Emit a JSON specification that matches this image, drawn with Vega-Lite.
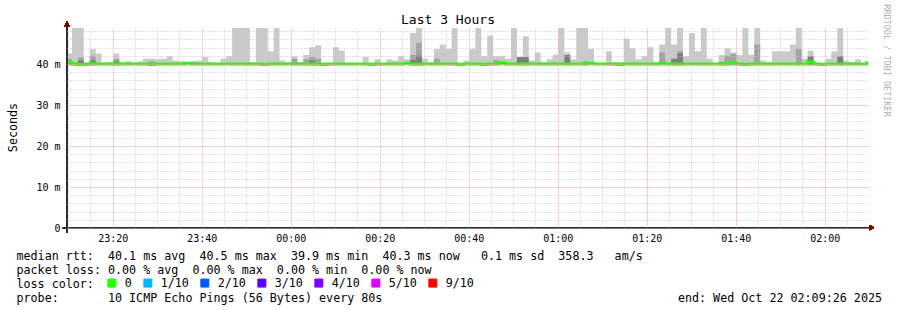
{
"$schema": "https://vega.github.io/schema/vega-lite/v6.json",
"width": 801, "height": 200,
"autosize": {"type": "none"},
"padding": {"left": 67, "top": 28, "right": 29, "bottom": 82},
"background": "#ffffff",
"config": {"view": {"stroke": null}, "font": "DejaVu Sans Mono"},
"title": {"text": "Last 3 Hours", "font": "DejaVu Sans Mono", "fontSize": 13, "fontWeight": "normal", "color": "#000000", "anchor": "middle", "frame": "group", "dx": -19.5, "offset": 0, "dy": 33, "baseline": "alphabetic"},
"data": {"values": [
{"t":"2025-10-21T23:09:30Z","lo":39.7,"hi":42.6,"m":41.3,"d":39.7,"med":40.3,"loss":"0"},
{"t":"2025-10-21T23:10:50Z","lo":39.7,"hi":52,"m":40.4,"d":39.7,"med":40.0,"loss":"0"},
{"t":"2025-10-21T23:12:10Z","lo":39.6,"hi":52,"m":41.6,"d":40.9,"med":39.9,"loss":"0"},
{"t":"2025-10-21T23:13:30Z","lo":39.6,"hi":40.5,"m":39.6,"d":39.6,"med":39.9,"loss":"0"},
{"t":"2025-10-21T23:14:50Z","lo":39.7,"hi":43.7,"m":42.0,"d":40.9,"med":40.1,"loss":"0"},
{"t":"2025-10-21T23:16:10Z","lo":39.7,"hi":42.6,"m":39.7,"d":39.7,"med":40.0,"loss":"0"},
{"t":"2025-10-21T23:17:30Z","lo":39.7,"hi":40.3,"m":39.7,"d":39.7,"med":40.0,"loss":"0"},
{"t":"2025-10-21T23:18:50Z","lo":39.7,"hi":40.5,"m":39.7,"d":39.7,"med":40.0,"loss":"0"},
{"t":"2025-10-21T23:20:10Z","lo":39.7,"hi":42.6,"m":41.3,"d":40.7,"med":40.1,"loss":"0"},
{"t":"2025-10-21T23:21:30Z","lo":39.7,"hi":40.5,"m":39.7,"d":39.7,"med":40.0,"loss":"0"},
{"t":"2025-10-21T23:22:50Z","lo":39.7,"hi":40.7,"m":39.7,"d":39.7,"med":40.0,"loss":"0"},
{"t":"2025-10-21T23:24:10Z","lo":39.7,"hi":40.4,"m":39.7,"d":39.7,"med":40.0,"loss":"0"},
{"t":"2025-10-21T23:25:30Z","lo":39.7,"hi":40.7,"m":39.7,"d":39.7,"med":40.0,"loss":"0"},
{"t":"2025-10-21T23:26:50Z","lo":39.7,"hi":41.3,"m":39.7,"d":39.7,"med":40.0,"loss":"0"},
{"t":"2025-10-21T23:28:10Z","lo":39.6,"hi":41.3,"m":40.7,"d":39.6,"med":39.9,"loss":"0"},
{"t":"2025-10-21T23:29:30Z","lo":39.7,"hi":41.2,"m":39.7,"d":39.7,"med":40.0,"loss":"0"},
{"t":"2025-10-21T23:30:50Z","lo":39.7,"hi":41.3,"m":39.7,"d":39.7,"med":40.0,"loss":"0"},
{"t":"2025-10-21T23:32:10Z","lo":39.7,"hi":41.9,"m":39.7,"d":39.7,"med":40.0,"loss":"0"},
{"t":"2025-10-21T23:33:30Z","lo":39.7,"hi":40.9,"m":39.7,"d":39.7,"med":40.0,"loss":"0"},
{"t":"2025-10-21T23:34:50Z","lo":39.7,"hi":40.7,"m":39.7,"d":39.7,"med":40.0,"loss":"0"},
{"t":"2025-10-21T23:36:10Z","lo":39.7,"hi":40.5,"m":39.7,"d":39.7,"med":40.2,"loss":"0"},
{"t":"2025-10-21T23:37:30Z","lo":39.7,"hi":40.7,"m":40.5,"d":39.7,"med":40.0,"loss":"0"},
{"t":"2025-10-21T23:38:50Z","lo":39.7,"hi":40.9,"m":39.7,"d":39.7,"med":40.0,"loss":"0"},
{"t":"2025-10-21T23:40:10Z","lo":39.7,"hi":41.7,"m":39.7,"d":39.7,"med":40.0,"loss":"0"},
{"t":"2025-10-21T23:41:30Z","lo":39.7,"hi":40.5,"m":39.7,"d":39.7,"med":40.0,"loss":"0"},
{"t":"2025-10-21T23:42:50Z","lo":39.7,"hi":40.3,"m":39.7,"d":39.7,"med":40.0,"loss":"0"},
{"t":"2025-10-21T23:44:10Z","lo":39.7,"hi":41.3,"m":39.7,"d":39.7,"med":40.0,"loss":"0"},
{"t":"2025-10-21T23:45:30Z","lo":39.7,"hi":41.9,"m":39.7,"d":39.7,"med":40.0,"loss":"0"},
{"t":"2025-10-21T23:46:50Z","lo":39.7,"hi":52,"m":39.7,"d":39.7,"med":40.0,"loss":"0"},
{"t":"2025-10-21T23:48:10Z","lo":39.7,"hi":52,"m":39.7,"d":39.7,"med":40.0,"loss":"0"},
{"t":"2025-10-21T23:49:30Z","lo":39.7,"hi":52,"m":40.3,"d":39.7,"med":40.0,"loss":"0"},
{"t":"2025-10-21T23:50:50Z","lo":39.7,"hi":40.5,"m":39.7,"d":39.7,"med":40.0,"loss":"0"},
{"t":"2025-10-21T23:52:10Z","lo":39.7,"hi":52,"m":39.7,"d":39.7,"med":40.0,"loss":"0"},
{"t":"2025-10-21T23:53:30Z","lo":39.6,"hi":52,"m":39.6,"d":39.6,"med":39.9,"loss":"0"},
{"t":"2025-10-21T23:54:50Z","lo":39.7,"hi":43.1,"m":39.7,"d":39.7,"med":40.0,"loss":"0"},
{"t":"2025-10-21T23:56:10Z","lo":39.7,"hi":52,"m":39.7,"d":39.7,"med":40.0,"loss":"0"},
{"t":"2025-10-21T23:57:30Z","lo":39.7,"hi":40.9,"m":39.7,"d":39.7,"med":40.0,"loss":"0"},
{"t":"2025-10-21T23:58:50Z","lo":39.7,"hi":40.5,"m":39.7,"d":39.7,"med":40.0,"loss":"0"},
{"t":"2025-10-22T00:00:10Z","lo":39.7,"hi":41.9,"m":41.3,"d":39.7,"med":40.0,"loss":"0"},
{"t":"2025-10-22T00:01:30Z","lo":39.7,"hi":40.5,"m":39.7,"d":39.7,"med":40.0,"loss":"0"},
{"t":"2025-10-22T00:02:50Z","lo":39.7,"hi":42.2,"m":41.2,"d":39.7,"med":40.0,"loss":"0"},
{"t":"2025-10-22T00:04:10Z","lo":39.7,"hi":44.1,"m":41.7,"d":40.9,"med":40.0,"loss":"0"},
{"t":"2025-10-22T00:05:30Z","lo":39.7,"hi":44.6,"m":41.3,"d":39.7,"med":40.0,"loss":"0"},
{"t":"2025-10-22T00:06:50Z","lo":39.6,"hi":40.2,"m":39.6,"d":39.6,"med":39.9,"loss":"0"},
{"t":"2025-10-22T00:08:10Z","lo":39.7,"hi":40.3,"m":39.7,"d":39.7,"med":40.0,"loss":"0"},
{"t":"2025-10-22T00:09:30Z","lo":39.7,"hi":44.1,"m":39.7,"d":39.7,"med":40.0,"loss":"0"},
{"t":"2025-10-22T00:10:50Z","lo":39.7,"hi":43.3,"m":39.7,"d":39.7,"med":40.0,"loss":"0"},
{"t":"2025-10-22T00:12:10Z","lo":39.7,"hi":40.2,"m":39.7,"d":39.7,"med":40.0,"loss":"0"},
{"t":"2025-10-22T00:13:30Z","lo":39.7,"hi":40.3,"m":39.7,"d":39.7,"med":40.0,"loss":"0"},
{"t":"2025-10-22T00:14:50Z","lo":39.7,"hi":40.2,"m":39.7,"d":39.7,"med":40.0,"loss":"0"},
{"t":"2025-10-22T00:16:10Z","lo":39.7,"hi":41.7,"m":39.7,"d":39.7,"med":40.0,"loss":"0"},
{"t":"2025-10-22T00:17:30Z","lo":39.6,"hi":40.3,"m":39.6,"d":39.6,"med":39.9,"loss":"0"},
{"t":"2025-10-22T00:18:50Z","lo":39.7,"hi":41.2,"m":39.7,"d":39.7,"med":40.0,"loss":"0"},
{"t":"2025-10-22T00:20:10Z","lo":39.7,"hi":40.2,"m":39.7,"d":39.7,"med":40.0,"loss":"0"},
{"t":"2025-10-22T00:21:30Z","lo":39.7,"hi":41.2,"m":39.7,"d":39.7,"med":40.0,"loss":"0"},
{"t":"2025-10-22T00:22:50Z","lo":39.7,"hi":40.9,"m":39.7,"d":39.7,"med":40.0,"loss":"0"},
{"t":"2025-10-22T00:24:10Z","lo":39.7,"hi":41.9,"m":39.7,"d":39.7,"med":40.0,"loss":"0"},
{"t":"2025-10-22T00:25:30Z","lo":39.7,"hi":41.2,"m":39.7,"d":39.7,"med":40.2,"loss":"0"},
{"t":"2025-10-22T00:26:50Z","lo":39.7,"hi":47.6,"m":42.2,"d":41.0,"med":40.0,"loss":"0"},
{"t":"2025-10-22T00:28:10Z","lo":39.7,"hi":52,"m":45.2,"d":42.0,"med":40.0,"loss":"0"},
{"t":"2025-10-22T00:29:30Z","lo":39.7,"hi":41.3,"m":39.7,"d":39.7,"med":40.0,"loss":"0"},
{"t":"2025-10-22T00:30:50Z","lo":39.7,"hi":40.5,"m":39.7,"d":39.7,"med":40.0,"loss":"0"},
{"t":"2025-10-22T00:32:10Z","lo":39.7,"hi":43.7,"m":41.3,"d":39.7,"med":40.0,"loss":"0"},
{"t":"2025-10-22T00:33:30Z","lo":39.7,"hi":44.8,"m":39.7,"d":39.7,"med":40.0,"loss":"0"},
{"t":"2025-10-22T00:34:50Z","lo":39.7,"hi":43.7,"m":39.7,"d":39.7,"med":40.0,"loss":"0"},
{"t":"2025-10-22T00:36:10Z","lo":39.7,"hi":52,"m":39.7,"d":39.7,"med":40.0,"loss":"0"},
{"t":"2025-10-22T00:37:30Z","lo":39.6,"hi":40.2,"m":39.6,"d":39.6,"med":39.9,"loss":"0"},
{"t":"2025-10-22T00:38:50Z","lo":39.7,"hi":40.9,"m":39.7,"d":39.7,"med":40.0,"loss":"0"},
{"t":"2025-10-22T00:40:10Z","lo":39.7,"hi":43.7,"m":39.7,"d":39.7,"med":40.0,"loss":"0"},
{"t":"2025-10-22T00:41:30Z","lo":39.7,"hi":52,"m":39.7,"d":39.7,"med":40.0,"loss":"0"},
{"t":"2025-10-22T00:42:50Z","lo":39.6,"hi":41.9,"m":39.6,"d":39.6,"med":39.9,"loss":"0"},
{"t":"2025-10-22T00:44:10Z","lo":39.7,"hi":47.0,"m":39.7,"d":39.7,"med":40.0,"loss":"0"},
{"t":"2025-10-22T00:45:30Z","lo":39.7,"hi":41.9,"m":41.0,"d":39.7,"med":40.0,"loss":"0"},
{"t":"2025-10-22T00:46:50Z","lo":39.7,"hi":41.9,"m":39.7,"d":39.7,"med":40.3,"loss":"0"},
{"t":"2025-10-22T00:48:10Z","lo":39.7,"hi":41.3,"m":39.7,"d":39.7,"med":40.0,"loss":"0"},
{"t":"2025-10-22T00:49:30Z","lo":39.7,"hi":52,"m":39.7,"d":39.7,"med":40.0,"loss":"0"},
{"t":"2025-10-22T00:50:50Z","lo":39.7,"hi":41.7,"m":39.7,"d":41.7,"med":40.0,"loss":"0"},
{"t":"2025-10-22T00:52:10Z","lo":39.7,"hi":46.8,"m":39.7,"d":41.7,"med":40.0,"loss":"0"},
{"t":"2025-10-22T00:53:30Z","lo":39.7,"hi":40.9,"m":39.7,"d":39.7,"med":40.0,"loss":"0"},
{"t":"2025-10-22T00:54:50Z","lo":39.7,"hi":42.8,"m":39.7,"d":39.7,"med":40.0,"loss":"0"},
{"t":"2025-10-22T00:56:10Z","lo":39.7,"hi":40.5,"m":39.7,"d":39.7,"med":40.0,"loss":"0"},
{"t":"2025-10-22T00:57:30Z","lo":39.7,"hi":41.2,"m":39.7,"d":39.7,"med":40.0,"loss":"0"},
{"t":"2025-10-22T00:58:50Z","lo":39.7,"hi":42.3,"m":40.5,"d":39.7,"med":40.0,"loss":"0"},
{"t":"2025-10-22T01:00:10Z","lo":39.7,"hi":52,"m":39.7,"d":39.7,"med":40.0,"loss":"0"},
{"t":"2025-10-22T01:01:30Z","lo":39.7,"hi":42.8,"m":39.7,"d":42.2,"med":40.0,"loss":"0"},
{"t":"2025-10-22T01:02:50Z","lo":39.7,"hi":41.2,"m":39.7,"d":39.7,"med":40.0,"loss":"0"},
{"t":"2025-10-22T01:04:10Z","lo":39.7,"hi":52,"m":39.7,"d":39.7,"med":40.0,"loss":"0"},
{"t":"2025-10-22T01:05:30Z","lo":39.7,"hi":52,"m":40.7,"d":39.7,"med":40.0,"loss":"0"},
{"t":"2025-10-22T01:06:50Z","lo":39.7,"hi":43.7,"m":39.7,"d":39.7,"med":40.2,"loss":"0"},
{"t":"2025-10-22T01:08:10Z","lo":39.7,"hi":40.0,"m":39.7,"d":39.7,"med":40.0,"loss":"0"},
{"t":"2025-10-22T01:09:30Z","lo":39.7,"hi":40.3,"m":39.7,"d":39.7,"med":40.0,"loss":"0"},
{"t":"2025-10-22T01:10:50Z","lo":39.7,"hi":43.1,"m":39.7,"d":39.7,"med":40.0,"loss":"0"},
{"t":"2025-10-22T01:12:10Z","lo":39.7,"hi":40.5,"m":39.7,"d":39.7,"med":40.0,"loss":"0"},
{"t":"2025-10-22T01:13:30Z","lo":39.6,"hi":40.5,"m":39.6,"d":39.6,"med":39.9,"loss":"0"},
{"t":"2025-10-22T01:14:50Z","lo":39.7,"hi":46.2,"m":39.7,"d":39.7,"med":40.0,"loss":"0"},
{"t":"2025-10-22T01:16:10Z","lo":39.7,"hi":43.8,"m":39.7,"d":39.7,"med":40.0,"loss":"0"},
{"t":"2025-10-22T01:17:30Z","lo":39.7,"hi":41.2,"m":39.7,"d":39.7,"med":40.0,"loss":"0"},
{"t":"2025-10-22T01:18:50Z","lo":39.7,"hi":41.9,"m":39.7,"d":39.7,"med":40.0,"loss":"0"},
{"t":"2025-10-22T01:20:10Z","lo":39.7,"hi":44.1,"m":39.7,"d":39.7,"med":40.0,"loss":"0"},
{"t":"2025-10-22T01:21:30Z","lo":39.7,"hi":40.5,"m":39.7,"d":39.7,"med":40.0,"loss":"0"},
{"t":"2025-10-22T01:22:50Z","lo":39.7,"hi":44.8,"m":42.8,"d":39.7,"med":40.2,"loss":"0"},
{"t":"2025-10-22T01:24:10Z","lo":39.7,"hi":52,"m":39.7,"d":39.7,"med":40.0,"loss":"0"},
{"t":"2025-10-22T01:25:30Z","lo":39.7,"hi":44.8,"m":39.7,"d":41.3,"med":40.0,"loss":"0"},
{"t":"2025-10-22T01:26:50Z","lo":39.7,"hi":52,"m":43.1,"d":42.6,"med":40.0,"loss":"0"},
{"t":"2025-10-22T01:28:10Z","lo":39.7,"hi":41.9,"m":39.7,"d":39.7,"med":40.0,"loss":"0"},
{"t":"2025-10-22T01:29:30Z","lo":39.7,"hi":47.6,"m":39.7,"d":39.7,"med":40.0,"loss":"0"},
{"t":"2025-10-22T01:30:50Z","lo":39.7,"hi":43.1,"m":39.7,"d":39.7,"med":40.0,"loss":"0"},
{"t":"2025-10-22T01:32:10Z","lo":39.7,"hi":52,"m":39.7,"d":39.7,"med":40.0,"loss":"0"},
{"t":"2025-10-22T01:33:30Z","lo":39.7,"hi":41.3,"m":39.7,"d":39.7,"med":40.0,"loss":"0"},
{"t":"2025-10-22T01:34:50Z","lo":39.7,"hi":40.0,"m":39.7,"d":39.7,"med":40.0,"loss":"0"},
{"t":"2025-10-22T01:36:10Z","lo":39.7,"hi":42.2,"m":39.7,"d":40.5,"med":40.0,"loss":"0"},
{"t":"2025-10-22T01:37:30Z","lo":39.7,"hi":43.8,"m":42.0,"d":39.7,"med":40.0,"loss":"0"},
{"t":"2025-10-22T01:38:50Z","lo":39.7,"hi":42.8,"m":42.5,"d":39.7,"med":40.3,"loss":"0"},
{"t":"2025-10-22T01:40:10Z","lo":39.7,"hi":42.2,"m":39.7,"d":39.7,"med":40.0,"loss":"0"},
{"t":"2025-10-22T01:41:30Z","lo":39.6,"hi":52,"m":39.6,"d":39.6,"med":39.9,"loss":"0"},
{"t":"2025-10-22T01:42:50Z","lo":39.7,"hi":42.3,"m":39.7,"d":39.7,"med":40.0,"loss":"0"},
{"t":"2025-10-22T01:44:10Z","lo":39.7,"hi":52,"m":44.8,"d":39.7,"med":40.0,"loss":"0"},
{"t":"2025-10-22T01:45:30Z","lo":39.7,"hi":40.9,"m":39.7,"d":39.7,"med":40.0,"loss":"0"},
{"t":"2025-10-22T01:46:50Z","lo":39.7,"hi":40.5,"m":39.7,"d":39.7,"med":40.0,"loss":"0"},
{"t":"2025-10-22T01:48:10Z","lo":39.7,"hi":43.1,"m":39.7,"d":39.7,"med":40.0,"loss":"0"},
{"t":"2025-10-22T01:49:30Z","lo":39.7,"hi":43.1,"m":39.7,"d":39.7,"med":40.0,"loss":"0"},
{"t":"2025-10-22T01:50:50Z","lo":39.7,"hi":43.1,"m":39.7,"d":39.7,"med":40.0,"loss":"0"},
{"t":"2025-10-22T01:52:10Z","lo":39.7,"hi":44.8,"m":39.7,"d":39.7,"med":40.0,"loss":"0"},
{"t":"2025-10-22T01:53:30Z","lo":39.7,"hi":52,"m":43.7,"d":39.7,"med":40.0,"loss":"0"},
{"t":"2025-10-22T01:54:50Z","lo":39.7,"hi":41.3,"m":39.7,"d":39.7,"med":40.0,"loss":"0"},
{"t":"2025-10-22T01:56:10Z","lo":39.7,"hi":43.3,"m":39.7,"d":41.9,"med":40.5,"loss":"0"},
{"t":"2025-10-22T01:57:30Z","lo":39.7,"hi":40.0,"m":39.7,"d":39.7,"med":40.0,"loss":"0"},
{"t":"2025-10-22T01:58:50Z","lo":39.6,"hi":40.0,"m":39.6,"d":39.6,"med":39.9,"loss":"0"},
{"t":"2025-10-22T02:00:10Z","lo":39.7,"hi":41.3,"m":39.7,"d":39.7,"med":40.0,"loss":"0"},
{"t":"2025-10-22T02:01:30Z","lo":39.7,"hi":43.1,"m":39.7,"d":39.7,"med":40.0,"loss":"0"},
{"t":"2025-10-22T02:02:50Z","lo":39.7,"hi":52,"m":39.7,"d":41.9,"med":40.0,"loss":"0"},
{"t":"2025-10-22T02:04:10Z","lo":39.7,"hi":40.9,"m":39.7,"d":39.7,"med":40.0,"loss":"0"},
{"t":"2025-10-22T02:05:30Z","lo":39.7,"hi":40.5,"m":39.7,"d":39.7,"med":40.0,"loss":"0"},
{"t":"2025-10-22T02:06:50Z","lo":39.7,"hi":41.2,"m":39.7,"d":39.7,"med":40.0,"loss":"0"},
{"t":"2025-10-22T02:08:10Z","lo":39.7,"hi":40.2,"m":39.7,"d":39.7,"med":40.0,"loss":"0"},
{"t":"2025-10-22T02:09:30Z","lo":39.7,"hi":40.2,"m":39.7,"d":39.7,"med":40.3,"loss":"0"},
{"t":"2025-10-22T02:10:50Z","lo":39.7,"hi":40.2,"m":39.7,"d":39.7,"med":40.3,"loss":"0"}
]},
"layer": [
{
"mark": {"type": "area", "interpolate": "step-after", "color": "#cacaca", "clip": true},
"encoding": {
"x": {"field": "t", "type": "temporal",
"scale": {"type": "utc", "domain": [{"year":2025,"month":10,"date":21,"hours":23,"minutes":9,"seconds":44,"utc":true},{"year":2025,"month":10,"date":22,"hours":2,"minutes":9,"seconds":44,"utc":true}]},
"axis": {"values": [1761088200000,1761088500000,1761088800000,1761089100000,1761089400000,1761089700000,1761090000000,1761090300000,1761090600000,1761090900000,1761091200000,1761091500000,1761091800000,1761092100000,1761092400000,1761092700000,1761093000000,1761093300000,1761093600000,1761093900000,1761094200000,1761094500000,1761094800000,1761095100000,1761095400000,1761095700000,1761096000000,1761096300000,1761096600000,1761096900000,1761097200000,1761097500000,1761097800000,1761098100000,1761098400000,1761098700000],
"labelExpr": "utcminutes(datum.value) % 20 === 0 ? utcFormat(datum.value, '%H:%M') : ''",
"ticks": false, "domain": false, "grid": true,
"gridColor": {"condition": {"test": "utcminutes(datum.value) % 20 === 0", "value": "#f0a0a0"}, "value": "#c4c4c4"},
"gridDash": {"condition": {"test": "utcminutes(datum.value) % 20 === 0", "value": [1, 1]}, "value": [1, 2]},
"gridWidth": 1,
"labelFont": "DejaVu Sans Mono", "labelFontSize": 10, "labelColor": "#000000", "labelPadding": 5,
"labelOverlap": false, "labelFlush": false, "zindex": 1,
"title": ["median\u00a0rtt:\u00a0\u00a040.1\u00a0ms\u00a0avg\u00a0\u00a040.5\u00a0ms\u00a0max\u00a0\u00a039.9\u00a0ms\u00a0min\u00a0\u00a040.3\u00a0ms\u00a0now\u00a0\u00a0\u00a00.1\u00a0ms\u00a0sd\u00a0\u00a0358.3\u00a0\u00a0\u00a0am/s",
"packet\u00a0loss:\u00a00.00\u00a0%\u00a0avg\u00a0\u00a00.00\u00a0%\u00a0max\u00a0\u00a00.00\u00a0%\u00a0min\u00a0\u00a00.00\u00a0%\u00a0now",
"loss\u00a0color:",
"probe:\u00a0\u00a0\u00a0\u00a0\u00a0\u00a0\u00a010\u00a0ICMP\u00a0Echo\u00a0Pings\u00a0(56\u00a0Bytes)\u00a0every\u00a080s\u00a0\u00a0\u00a0\u00a0\u00a0\u00a0\u00a0\u00a0\u00a0\u00a0\u00a0\u00a0\u00a0\u00a0\u00a0\u00a0\u00a0\u00a0\u00a0\u00a0\u00a0\u00a0\u00a0\u00a0\u00a0\u00a0\u00a0\u00a0\u00a0\u00a0\u00a0\u00a0\u00a0\u00a0\u00a0\u00a0\u00a0\u00a0\u00a0\u00a0\u00a0\u00a0end:\u00a0Wed\u00a0Oct\u00a022\u00a002:09:26\u00a02025"],
"titleFont": "DejaVu Sans Mono", "titleFontSize": 11.7, "titleFontWeight": "normal", "titleColor": "#000000",
"titleAnchor": "start", "titleAlign": "left", "titleBaseline": "alphabetic", "titleX": -51, "titleY": 31, "titleLineHeight": 14, "titleAngle": 0}},
"y": {"field": "hi", "type": "quantitative", "scale": {"domain": [0, 48.8], "nice": false, "zero": false},
"axis": {"values": [0,2,4,6,8,10,12,14,16,18,20,22,24,26,28,30,32,34,36,38,40,42,44,46,48],
"labelExpr": "datum.value % 10 === 0 ? (datum.value === 0 ? '0\u00a0\u00a0' : datum.value + '\u00a0m') : ''",
"ticks": false, "domain": false, "grid": true,
"gridColor": {"condition": {"test": "datum.value % 10 === 0 && datum.value > 0", "value": "#f0a0a0"}, "value": "#c4c4c4"},
"gridDash": {"condition": {"test": "datum.value % 10 === 0", "value": [1, 1]}, "value": [1, 2]},
"gridWidth": 1,
"labelFont": "DejaVu Sans Mono", "labelFontSize": 10, "labelColor": "#000000", "labelPadding": 7,
"labelOverlap": false, "labelFlush": false, "zindex": 1,
"title": "Seconds", "titleFont": "DejaVu Sans Mono", "titleFontSize": 11.7, "titleFontWeight": "normal", "titleColor": "#000000",
"titleAngle": 270, "titleX": -55, "titleY": 99, "titleAlign": "center", "titleBaseline": "middle"}},
"y2": {"field": "lo"}
}
},
{
"mark": {"type": "area", "interpolate": "step-after", "color": "#a4a4a4", "clip": true},
"encoding": {
"x": {"field": "t", "type": "temporal", "axis": null},
"y": {"field": "m", "type": "quantitative", "axis": null},
"y2": {"field": "lo"}
}
},
{
"mark": {"type": "area", "interpolate": "step-after", "color": "#7e7e7e", "clip": true},
"encoding": {
"x": {"field": "t", "type": "temporal", "axis": null},
"y": {"field": "d", "type": "quantitative",
"axis": {"orient": "right", "labels": false, "ticks": false, "domain": false, "grid": false,
"title": "RRDTOOL / TOBI OETIKER", "titleFont": "DejaVu Sans Mono", "titleFontSize": 8.5, "titleFontWeight": "normal",
"titleColor": "#b0b0b0", "titleAngle": 90, "titleX": 18, "titleY": 32, "titleAlign": "center", "titleBaseline": "middle"}},
"y2": {"field": "lo"}
}
},
{
"mark": {"type": "line", "interpolate": "step-after", "strokeWidth": 3, "clip": true},
"encoding": {
"x": {"field": "t", "type": "temporal", "axis": null},
"y": {"field": "med", "type": "quantitative", "axis": null},
"color": {"field": "loss", "type": "nominal",
"scale": {"domain": ["0","1/10","2/10","3/10","4/10","5/10","9/10"], "range": ["#26ff00","#00b8ff","#0059ff","#5e00ff","#7e00ff","#dd00ff","#ff0000"]},
"legend": {"orient": "none", "legendX": 39, "legendY": 249, "direction": "horizontal", "title": null,
"symbolType": "square", "symbolSize": 64, "symbolStrokeWidth": 1, "symbolStrokeColor": "#000000",
"labelFont": "DejaVu Sans Mono", "labelFontSize": 11.7, "labelColor": "#000000", "labelOffset": 7,
"columnPadding": 9, "padding": 0, "symbolOpacity": 1,
"encode": {"symbols": {"update": {"fill": {"scale": "color", "field": "value"}, "fillOpacity": {"value": 1}, "stroke": {"value": "#000000"}, "strokeWidth": {"value": 1}}}}}}
}
},
{
"mark": {"type": "rule", "color": "#2c2c2c", "strokeWidth": 1},
"encoding": {
"x": {"datum": {"year":2025,"month":10,"date":21,"hours":23,"minutes":8,"seconds":50,"utc":true}, "type": "temporal", "axis": null},
"x2": {"datum": {"year":2025,"month":10,"date":22,"hours":2,"minutes":10,"seconds":20,"utc":true}},
"y": {"datum": 0, "type": "quantitative", "axis": null}
}
},
{
"mark": {"type": "rule", "color": "#2c2c2c", "strokeWidth": 1},
"encoding": {
"x": {"datum": {"year":2025,"month":10,"date":21,"hours":23,"minutes":9,"seconds":44,"utc":true}, "type": "temporal", "axis": null},
"y": {"datum": -1, "type": "quantitative", "axis": null},
"y2": {"datum": 49.3}
}
},
{
"mark": {"type": "point", "shape": "triangle-up", "filled": true, "color": "#7f0000", "size": 28, "opacity": 1},
"encoding": {
"x": {"datum": {"year":2025,"month":10,"date":21,"hours":23,"minutes":9,"seconds":44,"utc":true}, "type": "temporal", "axis": null},
"y": {"datum": 49.8, "type": "quantitative", "axis": null}
}
},
{
"mark": {"type": "point", "shape": "triangle-right", "filled": true, "color": "#7f0000", "size": 28, "opacity": 1},
"encoding": {
"x": {"datum": {"year":2025,"month":10,"date":22,"hours":2,"minutes":10,"seconds":35,"utc":true}, "type": "temporal", "axis": null},
"y": {"datum": 0.1, "type": "quantitative", "axis": null}
}
}
],
"resolve": {"axis": {"x": "independent", "y": "independent"}}
}
